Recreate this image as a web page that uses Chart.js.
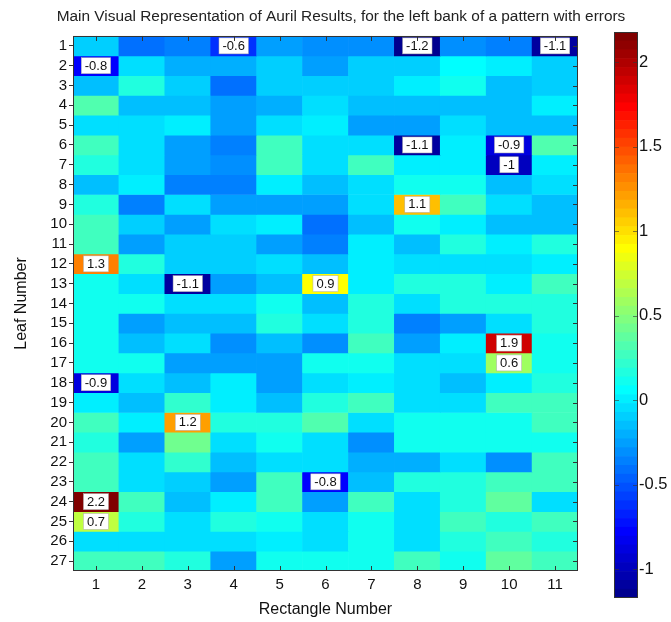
<!DOCTYPE html>
<html>
<head>
<meta charset="utf-8">
<script src="https://cdn.jsdelivr.net/npm/chart.js@4.4.1/dist/chart.umd.min.js"></script>
<style>
  body { margin: 0; background: #fff; }
  #wrap { position: relative; width: 671px; height: 622px; }
  #heat { position: absolute; left: 0; top: 0; }
  #cbar { position: absolute; left: 595px; top: 0; }
</style>
</head>
<body>
<div id="wrap">
  <canvas id="heat" width="671" height="622"></canvas>
  <canvas id="cbar" width="76" height="622"></canvas>
</div>
<script>
  const rectNumbers = ['1', '2', '3', '4', '5', '6', '7', '8', '9', '10', '11'];
  const leafNumbers = [1, 2, 3, 4, 5, 6, 7, 8, 9, 10, 11, 12, 13, 14, 15, 16, 17, 18, 19, 20, 21, 22, 23, 24, 25, 26, 27];
  const colorTicks = [-1, -0.5, 0, 0.5, 1, 1.5, 2];
  const colorMin = -1.17;
  const colorMax = 2.18;

  // one row per leaf, one value per rectangle
  const cellValues = [
    [-0.1, -0.4, -0.36, -0.64, -0.23, -0.33, -0.33, -1.2, -0.3, -0.36, -1.1],
    [-0.8, -0.03, -0.2, -0.2, -0.1, -0.23, -0.1, -0.1, 0.05, 0, -0.1],
    [-0.13, 0.18, -0.1, -0.42, -0.1, -0.1, -0.1, 0, 0.12, -0.13, -0.1],
    [0.3, -0.16, -0.16, -0.23, -0.2, -0.03, -0.16, -0.16, -0.16, -0.16, 0],
    [-0.03, -0.03, 0, -0.23, -0.05, 0.03, -0.26, -0.26, -0.05, -0.13, -0.13],
    [0.28, -0.03, -0.23, -0.36, 0.28, -0.05, -0.05, -1.1, 0.02, -0.9, 0.32],
    [0.18, -0.03, -0.23, -0.3, 0.28, -0.05, 0.25, 0, 0, -1, 0],
    [-0.13, 0, -0.36, -0.36, 0, -0.13, -0.03, 0.12, 0.12, -0.13, -0.05],
    [0.15, -0.36, -0.05, -0.23, -0.26, -0.26, -0.03, 1.1, 0.25, -0.05, -0.13],
    [0.25, -0.1, -0.23, -0.07, 0, -0.39, -0.13, 0.12, 0, -0.13, -0.13],
    [0.25, -0.26, -0.1, -0.1, -0.23, -0.36, 0, -0.16, 0.15, 0, 0.15],
    [1.3, 0.15, -0.1, -0.1, -0.05, -0.16, 0, -0.05, -0.05, -0.05, 0],
    [0.1, -0.03, -1.1, -0.23, -0.16, 0.9, 0, 0.15, 0.15, 0, 0.25],
    [0.1, 0.1, -0.03, -0.03, 0.1, -0.13, 0.15, -0.03, 0.15, 0.15, 0.15],
    [0.1, -0.23, -0.13, -0.13, 0.15, -0.05, 0.15, -0.36, -0.26, -0.05, 0.15],
    [0.1, -0.13, -0.03, -0.33, -0.13, -0.33, 0.25, -0.26, 0, 1.9, 0.1],
    [0.1, 0.1, -0.23, -0.23, -0.23, 0.12, 0.1, -0.03, -0.03, 0.6, 0.1],
    [-0.9, -0.03, -0.13, 0, -0.23, -0.03, 0, -0.03, -0.13, 0, 0.15],
    [0, -0.13, 0.22, 0, -0.16, 0.15, 0.25, -0.05, -0.05, 0.25, 0.25],
    [0.25, 0, 1.2, 0.15, 0.15, 0.32, -0.05, 0.1, 0.1, 0.1, 0.25],
    [0.15, -0.26, 0.45, -0.03, 0.1, -0.03, -0.33, 0.1, 0.1, 0.1, 0.1],
    [0.25, -0.03, 0.22, -0.16, -0.05, -0.03, -0.2, -0.2, -0.05, -0.3, 0.25],
    [0.28, -0.03, -0.1, -0.26, 0.25, -0.8, -0.16, 0.15, 0.15, 0.25, 0.25],
    [2.18, 0.25, -0.13, 0, 0.25, -0.26, 0.25, -0.05, 0.15, 0.38, -0.05],
    [0.7, 0.15, -0.03, 0.15, 0.1, -0.03, 0.1, -0.05, 0.25, 0.15, 0.25],
    [-0.03, -0.07, -0.03, -0.03, 0, -0.03, 0.1, -0.05, 0.15, 0.25, 0.15],
    [0.25, 0.25, 0.15, -0.26, 0.1, 0.1, 0.1, 0.25, 0.1, 0.38, 0.25]
  ];

  const FONT = '"Liberation Sans", Arial, sans-serif';
  const INK = '#111';

  // matlab jet(64)
  function jet(v) {
    let k = Math.floor((v - colorMin) / (colorMax - colorMin) * 64) + 1;
    k = Math.max(1, Math.min(64, k));
    const t = k / 64;
    const c = x => Math.round(255 * Math.max(0, Math.min(1, 1.5 - Math.abs(x))));
    return 'rgb(' + c(4 * t - 3) + ',' + c(4 * t - 2) + ',' + c(4 * t - 1) + ')';
  }

  const heatExtras = {
    id: 'heatExtras',
    afterDatasetsDraw(chart) {
      const { ctx, chartArea: a, scales: { x, y } } = chart;
      ctx.save();
      // value boxes on the outliers
      ctx.font = '13px ' + FONT;
      ctx.textAlign = 'center';
      ctx.textBaseline = 'middle';
      cellValues.forEach((row, r) => {
        row.forEach((v, c) => {
          if (Math.abs(v) < 0.55) return;
          const txt = String(Math.round(v * 10) / 10);
          const px = x.getPixelForValue(c);
          const py = y.getPixelForValue(leafNumbers[r]);
          const w = ctx.measureText(txt).width + 7;
          ctx.fillStyle = '#fff';
          ctx.fillRect(px - w / 2, py - 8, w, 16);
          ctx.strokeStyle = '#aaa';
          ctx.lineWidth = 0.5;
          ctx.strokeRect(px - w / 2, py - 8, w, 16);
          ctx.fillStyle = INK;
          ctx.fillText(txt, px, py + 0.5);
        });
      });
      // frame + inward ticks
      ctx.strokeStyle = '#333';
      ctx.lineWidth = 1;
      ctx.strokeRect(a.left + 0.5, a.top + 0.5, a.right - a.left - 1, a.bottom - a.top - 1);
      ctx.beginPath();
      rectNumbers.forEach((_, i) => {
        const px = Math.round(x.getPixelForValue(i)) + 0.5;
        ctx.moveTo(px, a.top); ctx.lineTo(px, a.top + 5);
        ctx.moveTo(px, a.bottom); ctx.lineTo(px, a.bottom - 5);
      });
      leafNumbers.forEach(n => {
        const py = Math.round(y.getPixelForValue(n)) + 0.5;
        ctx.moveTo(a.right, py); ctx.lineTo(a.right - 5, py);
      });
      ctx.stroke();
      ctx.restore();
    }
  };

  new Chart(document.getElementById('heat'), {
    type: 'bar',
    data: {
      labels: rectNumbers,
      datasets: leafNumbers.map((leaf, r) => ({
        label: 'Leaf ' + leaf,
        data: cellValues[r].map(() => [leaf - 0.5, leaf + 0.5]),
        backgroundColor: cellValues[r].map(jet),
        borderWidth: 0,
        barPercentage: 1,
        categoryPercentage: 1,
        grouped: false
      }))
    },
    options: {
      responsive: false,
      animation: false,
      layout: { padding: { left: 11, right: 0, top: 0, bottom: 0 } },
      plugins: {
        legend: { display: false },
        tooltip: { enabled: false },
        title: {
          display: true,
          text: 'Main Visual Representation of Auril Results, for the left bank of a pattern with errors',
          color: '#222',
          font: { family: FONT, size: 15.4, weight: 'normal' },
          padding: { top: 8, bottom: 9.5 }
        }
      },
      scales: {
        x: {
          grid: { display: false, drawTicks: false },
          border: { display: false },
          ticks: { color: INK, font: { family: FONT, size: 15 }, padding: 5 },
          title: {
            display: true, text: 'Rectangle Number', color: INK,
            font: { family: FONT, size: 16 }, padding: { top: 0, bottom: 3 }
          },
          afterFit: s => { s.height = 51; }
        },
        y: {
          type: 'linear',
          reverse: true,
          min: 0.5,
          max: 27.5,
          afterBuildTicks: s => { s.ticks = leafNumbers.map(v => ({ value: v })); },
          grid: { display: true, drawOnChartArea: false, drawTicks: true, tickLength: 4, color: '#333' },
          border: { display: false },
          ticks: { autoSkip: false, color: INK, font: { family: FONT, size: 15 }, padding: 2 },
          title: {
            display: true, text: 'Leaf Number', color: INK,
            font: { family: FONT, size: 16 }, padding: { top: 1.4, bottom: 0 }
          },
          afterFit: s => { s.width = 62; }
        },
        // empty right axis that keeps room for the colour bar
        yRoom: {
          type: 'linear',
          position: 'right',
          grid: { display: false, drawTicks: false },
          border: { display: false },
          ticks: { display: false },
          afterFit: s => { s.width = 93; }
        }
      }
    },
    plugins: [heatExtras]
  });

  // colour bar: 64 jet steps stacked on a linear axis
  const levelStep = (colorMax - colorMin) / 64;
  const levelEdges = [];
  for (let i = 0; i < 64; i++) levelEdges.push([colorMin + i * levelStep, colorMin + (i + 1) * levelStep]);

  const cbarExtras = {
    id: 'cbarExtras',
    afterDatasetsDraw(chart) {
      const { ctx, chartArea: a, scales: { y } } = chart;
      ctx.save();
      ctx.strokeStyle = '#333';
      ctx.lineWidth = 1;
      ctx.strokeRect(a.left + 0.5, a.top + 0.5, a.right - a.left - 1, a.bottom - a.top - 1);
      ctx.beginPath();
      colorTicks.forEach(v => {
        const py = Math.round(y.getPixelForValue(v)) + 0.5;
        ctx.moveTo(a.left, py); ctx.lineTo(a.left + 5, py);
        ctx.moveTo(a.right, py); ctx.lineTo(a.right - 5, py);
      });
      ctx.globalAlpha = 0.6;
      ctx.stroke();
      ctx.restore();
    }
  };

  new Chart(document.getElementById('cbar'), {
    type: 'bar',
    data: {
      labels: [''],
      datasets: levelEdges.map(e => ({
        data: [e],
        backgroundColor: jet((e[0] + e[1]) / 2),
        borderWidth: 0,
        barPercentage: 1,
        categoryPercentage: 1,
        grouped: false
      }))
    },
    options: {
      responsive: false,
      animation: false,
      layout: { padding: { left: 19, right: 0, top: 32, bottom: 24 } },
      plugins: { legend: { display: false }, tooltip: { enabled: false } },
      scales: {
        x: { display: false },
        y: {
          type: 'linear',
          position: 'right',
          min: colorMin,
          max: colorMax,
          afterBuildTicks: s => { s.ticks = colorTicks.map(v => ({ value: v })); },
          grid: { display: false, drawTicks: false },
          border: { display: false },
          ticks: { color: INK, font: { family: FONT, size: 16.5 }, padding: 1, callback: v => String(v) },
          afterFit: s => { s.width = 33; }
        }
      }
    },
    plugins: [cbarExtras]
  });
</script>
</body>
</html>
